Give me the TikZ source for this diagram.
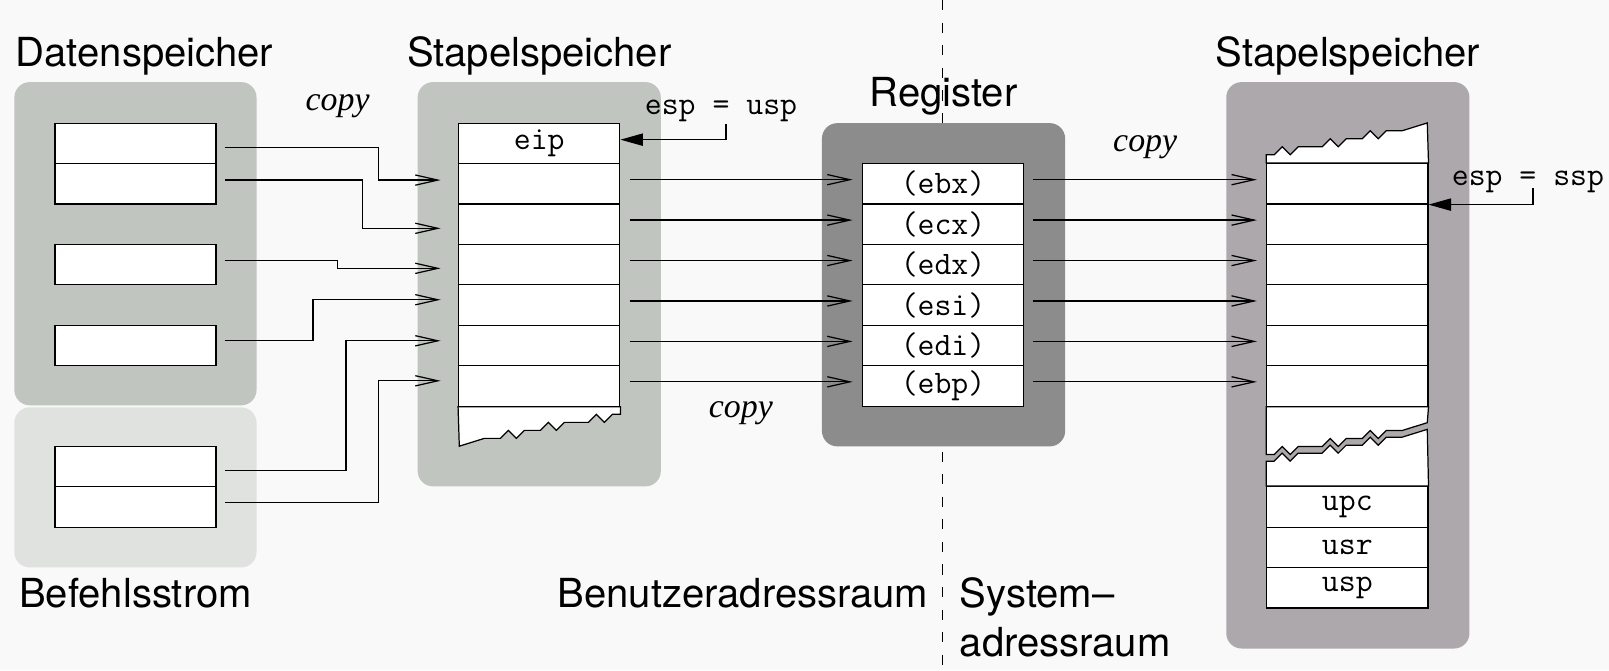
\documentclass[tikz,border=0pt]{standalone}
\usepackage{fontspec}
\setmainfont{TeX Gyre Heros}
\newfontfamily\copyfont{Liberation Serif}
\usetikzlibrary{arrows.meta}
\definecolor{pagecol}{RGB}{249,249,249}
\definecolor{datcol}{RGB}{192,197,192}
\definecolor{befcol}{RGB}{223,226,223}
\definecolor{regcol}{RGB}{140,140,140}
\definecolor{syscol}{RGB}{172,168,171}

% torn edge of a stack, rising to the right / falling to the left
\newcommand{\tornrise}{-- ++(7.8,0) -- ++(7.8,-7.8) -- ++(7.8,7.8) -- ++(7.8,-7.8) -- ++(23.4,0) -- ++(7.8,-7.8) -- ++(7.8,7.8) -- ++(7.8,-7.8) -- ++(15.6,0) -- ++(7.8,-7.8) -- ++(7.8,7.8) -- ++(7.8,-7.8) -- ++(15.6,0) -- ++(24.4,-7.6)}
\newcommand{\tornfall}{-- ++(-7.8,0) -- ++(-7.8,7.8) -- ++(-7.8,-7.8) -- ++(-7.8,7.8) -- ++(-23.4,0) -- ++(-7.8,7.8) -- ++(-7.8,-7.8) -- ++(-7.8,7.8) -- ++(-15.6,0) -- ++(-7.8,7.8) -- ++(-7.8,-7.8) -- ++(-7.8,7.8) -- ++(-15.6,0) -- ++(-24.4,7.6)}

\tikzset{
    cell/.style={draw, fill=white, line width=0.6pt, minimum width=78.5pt, minimum height=19.7pt, inner sep=0pt, font=\ttfamily\fontsize{16}{18}\selectfont},
    arr/.style={-{Straight Barb[length=11pt,width=5pt]}, line width=0.6pt, shorten <=4.5pt, shorten >=4.5pt},
    ptr/.style={-{Triangle[length=11pt,width=6pt]}, line width=0.6pt},
    lbl/.style={font=\fontsize{19.5}{24}\selectfont, inner sep=0pt},
    mono/.style={font=\ttfamily\fontsize{16}{18}\selectfont, inner sep=0pt},
    cp/.style={font=\copyfont\itshape\fontsize{16.5}{18}\selectfont, inner sep=0pt}
}

\begin{document}
\begin{tikzpicture}[x=0.5pt, y=-0.5pt]

    \useasboundingbox (0,0) rectangle (1568,653);
    \fill[pagecol] (0,0) rectangle (1568,653);

    % Border between user and system address space
    \draw[line width=0.5pt, dash pattern=on 5pt off 6pt] (918,0) -- (918,653);

    % Shaded areas
    \fill[datcol, rounded corners=7.5pt] (14,80) rectangle (250,395);
    \fill[befcol, rounded corners=7.5pt] (14,397) rectangle (250,553);
    \fill[datcol, rounded corners=7.5pt] (407,80) rectangle (644,474);
    \fill[regcol, rounded corners=7.5pt] (801,120) rectangle (1038,435);
    \fill[syscol, rounded corners=7.5pt] (1195,80) rectangle (1432,632);

    % Data and instruction cells
    \node[cell] (dat1) at (132,139.7) {};
    \node[cell] (dat2) at (132,179.1) {};
    \node[cell] (dat3) at (132,257.9) {};
    \node[cell] (dat4) at (132,336.7) {};
    \node[cell] (bef1) at (132,454.6) {};
    \node[cell] (bef2) at (132,494) {};

    % User stack
    \node[cell] (eip) at (525.5,139.7) {eip};
    \node[cell] (us1) at (525.5,179.1) {};
    \node[cell] (us2) at (525.5,218.5) {};
    \node[cell] (us3) at (525.5,257.9) {};
    \node[cell] (us4) at (525.5,297.3) {};
    \node[cell] (us5) at (525.5,336.7) {};
    \node[cell] (us6) at (525.5,376.1) {};
    \filldraw[fill=white, line width=0.6pt] (us6.south east) -- ++(0,7.4) \tornfall -- (us6.south west) -- cycle;

    % Registers
    \node[cell] (ebx) at (919,179.1) {(ebx)};
    \node[cell] (ecx) at (919,218.5) {(ecx)};
    \node[cell] (edx) at (919,257.9) {(edx)};
    \node[cell] (esi) at (919,297.3) {(esi)};
    \node[cell] (edi) at (919,336.7) {(edi)};
    \node[cell] (ebp) at (919,376.1) {(ebp)};

    % System stack
    \node[cell] (ss1) at (1313,179.1) {};
    \node[cell] (ss2) at (1313,218.5) {};
    \node[cell] (ss3) at (1313,257.9) {};
    \node[cell] (ss4) at (1313,297.3) {};
    \node[cell] (ss5) at (1313,336.7) {};
    \node[cell] (ss6) at (1313,376.1) {};
    \node[cell] (upc) at (1313,494) {upc};
    \node[cell] (usr) at (1313,533.4) {usr};
    \node[cell] (usp) at (1313,572.8) {usp};
    \filldraw[fill=white, line width=0.6pt] (ss1.north west) -- ++(0,-8) \tornrise -- (ss1.north east) -- cycle;
    \filldraw[fill=white, line width=0.6pt] (ss6.south west) -- ++(0,46.5) \tornrise -- (ss6.south east) -- cycle;
    \filldraw[fill=white, line width=0.6pt] (upc.north west) -- ++(0,-24.3) \tornrise -- (upc.north east) -- cycle;

    % Copy onto the user stack
    \draw[arr, shorten <=4pt, shorten >=8.5pt] ([yshift=-2.2pt]dat1.east) -- ++(157.7,0) |- ([yshift=1.8pt]us1.west);
    \draw[arr, shorten <=4pt, shorten >=8.5pt] ([yshift=1.8pt]dat2.east) -- ++(142,0) |- ([yshift=-2pt]us2.west);
    \draw[arr, shorten <=4pt, shorten >=8.5pt] ([yshift=2pt]dat3.east) -- ++(118,0) |- ([yshift=-1.8pt]us3.west);
    \draw[arr, shorten <=4pt, shorten >=8.5pt] ([yshift=2.3pt]dat4.east) -- ++(94,0) |- ([yshift=2.6pt]us4.west);
    \draw[arr, shorten <=4pt, shorten >=8.5pt] ([yshift=-2pt]bef1.east) -- ++(126,0) |- ([yshift=2.3pt]us5.west);
    \draw[arr, shorten <=4pt, shorten >=8.5pt] ([yshift=2.2pt]bef2.east) -- ++(157.7,0) |- ([yshift=2.5pt]us6.west);

    % Copy into the registers
    \draw[arr] ([yshift=2pt]us1.east) -- ([yshift=2pt]ebx.west);
    \draw[arr] ([yshift=2pt]us2.east) -- ([yshift=2pt]ecx.west);
    \draw[arr] ([yshift=2pt]us3.east) -- ([yshift=2pt]edx.west);
    \draw[arr] ([yshift=2pt]us4.east) -- ([yshift=2pt]esi.west);
    \draw[arr] ([yshift=2pt]us5.east) -- ([yshift=2pt]edi.west);
    \draw[arr] ([yshift=2pt]us6.east) -- ([yshift=2pt]ebp.west);

    % Copy onto the system stack
    \draw[arr] ([yshift=2pt]ebx.east) -- ([yshift=2pt]ss1.west);
    \draw[arr] ([yshift=2pt]ecx.east) -- ([yshift=2pt]ss2.west);
    \draw[arr] ([yshift=2pt]edx.east) -- ([yshift=2pt]ss3.west);
    \draw[arr] ([yshift=2pt]esi.east) -- ([yshift=2pt]ss4.west);
    \draw[arr] ([yshift=2pt]edi.east) -- ([yshift=2pt]ss5.west);
    \draw[arr] ([yshift=2pt]ebp.east) -- ([yshift=2pt]ss6.west);

    % Stack pointers
    \node[mono, anchor=base] (espu) at (702.6,112) {esp = usp};
    \draw[ptr] ([xshift=2.5pt,yshift=-4.5pt]espu.base) |- ([yshift=1.8pt]eip.east);
    \node[mono, anchor=base] (esps) at (1489,180.3) {esp = ssp};
    \draw[ptr] ([xshift=2.5pt,yshift=-1.5pt]esps.base) |- (ss1.south east);

    % Labels
    \node[lbl, anchor=base west] (tdat) at (15,65) {Datenspeicher};
    \node[lbl, anchor=base] (tust) at (525.5,65) {Stapelspeicher};
    \node[lbl, anchor=base] (tsst) at (1313.5,65) {Stapelspeicher};
    \node[lbl, anchor=base] (treg) at (919.5,104) {Register};
    \node[lbl, anchor=base] (tbef) at (132,592) {Befehlsstrom};
    \node[lbl, anchor=base east] (tuser) at (905,592) {Benutzeradressraum};
    \node[lbl, anchor=base west, align=left] (tsys) at (935,640) {System–\\adressraum};

    \node[cp] (cp1) at (329,103) {copy};
    \node[cp] (cp2) at (1116,143) {copy};
    \node[cp] (cp3) at (722,403) {copy};

\end{tikzpicture}
\end{document}
